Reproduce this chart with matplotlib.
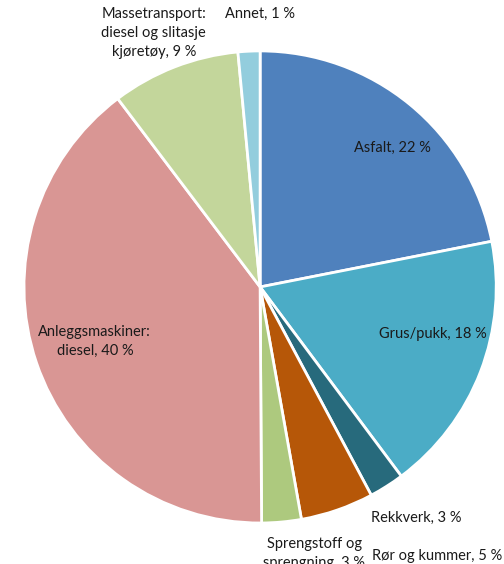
import matplotlib.pyplot as plt

categories = ['Asfalt', 'Grus/pukk', 'Rekkverk', 'Rør og kummer',
              'Sprengstoff og\nsprengning', 'Anleggsmaskiner:\ndiesel',
              'Massetransport:\ndiesel og slitasje\nkjøretøy', 'Annet']
values = [21.9, 17.9, 2.4, 5.0, 2.7, 39.8, 8.8, 1.5]
shown_pct = [22, 18, 3, 5, 3, 40, 9, 1]
colors = ['#4F81BD', '#4BACC6', '#276A7C', '#B65708', '#ADC97E',
          '#D99694', '#C3D69B', '#93CDDD']

# label anchors (in pie radius units)
label_pos = [(0.56, 0.59), (0.73, -0.20), (0.66, -0.98), (0.75, -1.14),
             (0.23, -1.128), (-0.70, -0.23), (-0.45, 1.075), (0.0, 1.155)]

plt.rcParams['font.family'] = ['Lato', 'DejaVu Sans']

fig = plt.figure(figsize=(5.04, 5.64), dpi=100)
ax = fig.add_axes([0.0476, 0.0727, 0.937, 0.837])
ax.pie(values, colors=colors, startangle=90, counterclock=False,
       radius=1.0, wedgeprops=dict(edgecolor='white', linewidth=2))
ax.set_xlim(-1.0, 1.0)
ax.set_ylim(-1.0, 1.0)
ax.set_aspect('auto')

for cat, pct, (x, y) in zip(categories, shown_pct, label_pos):
    ax.text(x, y, f'{cat}, {pct} %', ha='center', va='center',
            fontsize=10.5, color='#1a1a1a', linespacing=1.45, clip_on=False)

fig.savefig('out.png', dpi=100)
